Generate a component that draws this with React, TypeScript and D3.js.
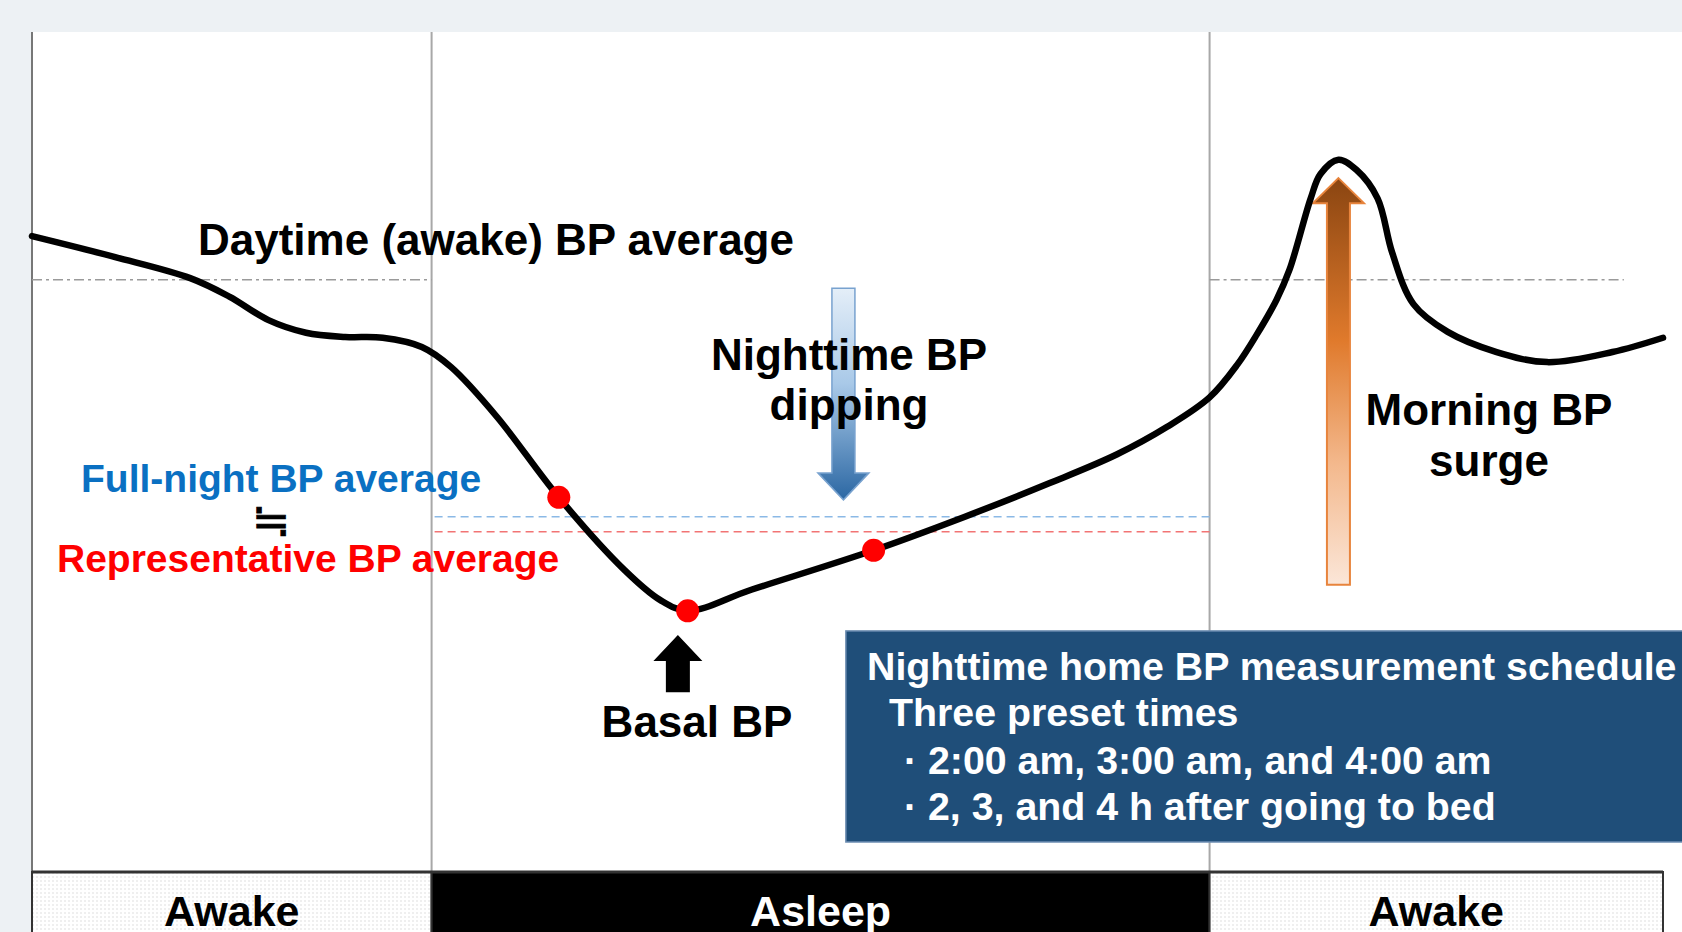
import React from 'react';
import * as d3 from 'd3';

// Schematic BP curve: time in arbitrary units (0-100), BP in arbitrary units (0-100)
const curveTime = [0, 5.1, 9.7, 12.1, 14.5, 16.8, 19.2, 21.5, 23.9, 25.7, 28.5, 32.3, 36.3, 38.5, 40.2, 44.1, 51.6, 57.2, 62.4, 66.5, 69.6, 72.2, 73.9, 75.1, 76.3, 77.1, 78.4, 79.0, 80.1, 81.2, 82.5, 83.4, 84.7, 86.8, 89.8, 92.9, 96.9, 100];
const curveBP = [75.7, 73.2, 70.7, 68.5, 65.7, 64.2, 63.7, 63.6, 62.5, 60.1, 54.2, 44.6, 36.0, 32.4, 31.1, 33.6, 38.3, 42.3, 46.3, 49.7, 53.0, 56.5, 60.4, 64.0, 68.1, 71.7, 80.2, 83.1, 84.8, 83.6, 80.2, 73.7, 67.6, 64.3, 61.9, 60.7, 61.9, 63.6];

// three preset nighttime readings
const readingTime = [32.3, 40.2, 51.6];
const readingBP = [44.6, 31.1, 38.3];

const daytimeAvg = 70.5;
const fullNightAvg = 42.3;
const representativeAvg = 40.5;

const phaseLabels = ['Awake', 'Asleep', 'Awake'];
const phaseBounds = [0, 24.5, 72.2, 100];

const scheduleLines = [
  'Nighttime home BP measurement schedule',
  'Three preset times',
  '· 2:00 am, 3:00 am, and 4:00 am',
  '· 2, 3, and 4 h after going to bed',
];

const W = 1682;
const H = 932;
const FONT = '"Liberation Sans", Arial, sans-serif';

const x = d3.scaleLinear().domain([0, 100]).range([32, 1663]);
const y = d3.scaleLinear().domain([0, 100]).range([872, 32]);

// vertical block arrow from tail to tip
const arrowPath = (cx: number, yTail: number, yTip: number, shaftW: number, headW: number, headL: number) => {
  const dir = yTip < yTail ? 1 : -1;
  const yHead = yTip + dir * headL;
  return `M${cx},${yTip} L${cx + headW / 2},${yHead} L${cx + shaftW / 2},${yHead} L${cx + shaftW / 2},${yTail} L${cx - shaftW / 2},${yTail} L${cx - shaftW / 2},${yHead} L${cx - headW / 2},${yHead} Z`;
};

export default function App() {
  const pts = curveTime.map((t, i) => [t, curveBP[i]] as [number, number]);
  const line = d3.line<[number, number]>()
    .x(d => x(d[0]))
    .y(d => y(d[1]))
    .curve(d3.curveCatmullRom.alpha(0.5));

  const bandTop = y(0);

  return (
    <svg width={W} height={H} style={{ position: 'fixed', left: 0, top: 0 }} fontFamily={FONT}>
      <defs>
        <pattern id="dots" width="4" height="4" patternUnits="userSpaceOnUse">
          <rect width="4" height="4" fill="#fff" />
          <circle cx="1" cy="1" r="0.7" fill="#d4d4d4" />
        </pattern>
        <linearGradient id="blueGrad" x1="0" y1="0" x2="0" y2="1">
          <stop offset="0" stopColor="#e4eef8" />
          <stop offset="0.45" stopColor="#a9c9e8" />
          <stop offset="1" stopColor="#2b67a3" />
        </linearGradient>
        <linearGradient id="orangeGrad" x1="0" y1="0" x2="0" y2="1">
          <stop offset="0" stopColor="#8a4511" />
          <stop offset="0.4" stopColor="#e07a2c" />
          <stop offset="0.7" stopColor="#f3b88c" />
          <stop offset="1" stopColor="#fbe6d8" />
        </linearGradient>
      </defs>

      {/* page + plot background */}
      <rect width={W} height={H} fill="#edf1f4" />
      <rect x={x(0)} y={y(100)} width={W - x(0)} height={H - y(100)} fill="#fff" />
      <line x1={x(0)} x2={x(0)} y1={y(100)} y2={H} stroke="#777" strokeWidth={2} />

      {/* phase separators */}
      {phaseBounds.slice(1, 3).map((b, i) => (
        <line key={i} x1={x(b)} x2={x(b)} y1={y(100)} y2={bandTop} stroke="#a8a8a8" strokeWidth={2} />
      ))}

      {/* daytime average (dash-dot) */}
      <line x1={x(0)} x2={x(phaseBounds[1])} y1={y(daytimeAvg)} y2={y(daytimeAvg)} stroke="#9a9a9a" strokeWidth={1.6} strokeDasharray="10 4 3 4" />
      <line x1={x(phaseBounds[2])} x2={x(97.6)} y1={y(daytimeAvg)} y2={y(daytimeAvg)} stroke="#9a9a9a" strokeWidth={1.6} strokeDasharray="10 4 3 4" />

      {/* nighttime averages */}
      <line x1={x(phaseBounds[1]) + 3} x2={x(phaseBounds[2])} y1={y(fullNightAvg)} y2={y(fullNightAvg)} stroke="#8bb9e6" strokeWidth={1.6} strokeDasharray="8 5" />
      <line x1={x(phaseBounds[1]) + 3} x2={x(phaseBounds[2])} y1={y(representativeAvg)} y2={y(representativeAvg)} stroke="#f27474" strokeWidth={1.6} strokeDasharray="8 5" />

      {/* arrows */}
      <path d={arrowPath(x(49.75), y(69.5), y(44.3), 23, 51, 27)} fill="url(#blueGrad)" stroke="#78a2cf" strokeWidth={1.5} />
      <path d={arrowPath(x(80.1), y(34.2), y(82.6), 23, 51, 25)} fill="url(#orangeGrad)" stroke="#e8843c" strokeWidth={2} />
      <path d={arrowPath(x(39.6), y(21.4), y(28.2), 24, 49, 26)} fill="#000" />

      {/* BP curve */}
      <path d={line(pts) || ''} fill="none" stroke="#000" strokeWidth={6.5} strokeLinejoin="round" strokeLinecap="round" />
      {readingTime.map((t, i) => (
        <circle key={i} cx={x(t)} cy={y(readingBP[i])} r={11.5} fill="#ff0000" />
      ))}

      {/* labels */}
      <g fontWeight="bold" fill="#000">
        <text x={198} y={255} fontSize={44}>Daytime (awake) BP average</text>
        <text x={849} y={370} fontSize={44} textAnchor="middle">Nighttime BP</text>
        <text x={849} y={420} fontSize={44} textAnchor="middle">dipping</text>
        <text x={1489} y={425} fontSize={44} textAnchor="middle">Morning BP</text>
        <text x={1489} y={476} fontSize={44} textAnchor="middle">surge</text>
        <text x={697} y={737} fontSize={44} textAnchor="middle">Basal BP</text>
        <text x={81} y={492} fontSize={39} fill="#0a70c2">Full-night BP average</text>
        <text x={57} y={572} fontSize={39} fill="#ff0000">Representative BP average</text>
      </g>
      <text x={271} y={536} fontSize={46} textAnchor="middle" fontFamily='"DejaVu Sans", sans-serif' fill="#000" stroke="#000" strokeWidth={0.8}>≒</text>

      {/* schedule box */}
      <rect x={x(49.9)} y={y(28.7)} width={W - x(49.9) + 4} height={y(3.57) - y(28.7)} fill="#1f4e79" stroke="#6f8fb3" strokeWidth={1.5} />
      <g fontWeight="bold" fill="#fff" fontSize={39.3}>
        <text x={867} y={680}>{scheduleLines[0]}</text>
        <text x={889} y={726}>{scheduleLines[1]}</text>
        <text x={904} y={774}>{scheduleLines[2]}</text>
        <text x={904} y={820}>{scheduleLines[3]}</text>
      </g>

      {/* sleep/wake band */}
      {phaseLabels.map((lab, i) => {
        const x0 = x(phaseBounds[i]);
        const x1 = x(phaseBounds[i + 1]);
        const dark = lab === 'Asleep';
        return (
          <g key={i}>
            <rect x={x0} y={bandTop} width={x1 - x0} height={H - bandTop + 4} fill={dark ? '#000' : 'url(#dots)'} stroke="#333" strokeWidth={2} />
            <text x={(x0 + x1) / 2} y={926} fontSize={43} fontWeight="bold" textAnchor="middle" fill={dark ? '#fff' : '#000'}>{lab}</text>
          </g>
        );
      })}
      <line x1={x(0)} x2={x(100)} y1={bandTop} y2={bandTop} stroke="#333" strokeWidth={3} />
    </svg>
  );
}
